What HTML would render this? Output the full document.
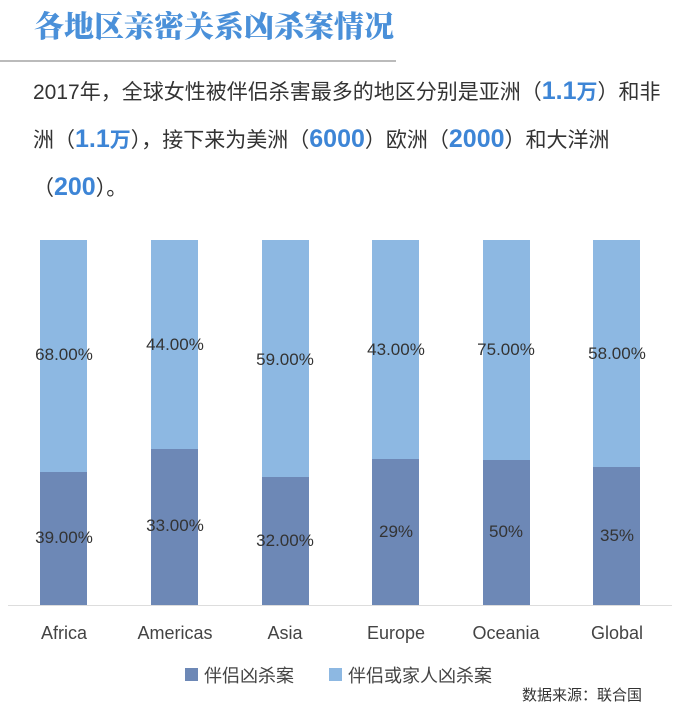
<!DOCTYPE html>
<html><head><meta charset="utf-8"><style>
body{margin:0;width:680px;height:709px;background:#fff;position:relative;overflow:hidden;font-family:"Liberation Sans","Noto Sans CJK SC",sans-serif}
.t{position:absolute;white-space:nowrap}
.b{position:absolute;width:47px}
.l{background:#8db8e2}.d{background:#6d88b6}
.lab{position:absolute;width:120px;text-align:center;font-size:17px;color:#333}
.x{position:absolute;width:120px;text-align:center;font-size:18px;color:#444;top:623px}
.hl{color:#3d85d6;font-weight:bold;font-size:25px}
</style></head><body>
<div class="t" style="left:34px;top:2px;font-size:30px;font-weight:900;color:#4a90d9;font-family:'Noto Serif CJK SC','Noto Sans CJK SC',serif">各地区亲密关系凶杀案情况</div>
<div style="position:absolute;left:0;top:60px;width:396px;height:2px;background:#bbb"></div>
<div class="t" style="left:33px;top:68px;font-size:21px;color:#333;line-height:46px">2017年，全球女性被伴侣杀害最多的地区分别是亚洲（<span class="hl">1.1</span><span style="color:#3d85d6;font-weight:bold">万</span>）和非<br>洲（<span class="hl">1.1</span><span style="color:#3d85d6;font-weight:bold">万</span>），接下来为美洲（<span class="hl">6000</span>）欧洲（<span class="hl">2000</span>）和大洋洲<br>（<span class="hl">200</span>）。</div>

<div style="position:absolute;left:8px;top:605px;width:664px;height:1px;background:#ddd"></div>

<div class="b l" style="left:40px;top:240px;height:232px"></div><div class="b d" style="left:40px;top:472px;height:133px"></div>
<div class="b l" style="left:151px;top:240px;height:209px"></div><div class="b d" style="left:151px;top:449px;height:156px"></div>
<div class="b l" style="left:262px;top:240px;height:237px"></div><div class="b d" style="left:262px;top:477px;height:128px"></div>
<div class="b l" style="left:372px;top:240px;height:219px"></div><div class="b d" style="left:372px;top:459px;height:146px"></div>
<div class="b l" style="left:483px;top:240px;height:220px"></div><div class="b d" style="left:483px;top:460px;height:145px"></div>
<div class="b l" style="left:593px;top:240px;height:227px"></div><div class="b d" style="left:593px;top:467px;height:138px"></div>

<div class="lab" style="left:4px;top:345px">68.00%</div><div class="lab" style="left:4px;top:528px">39.00%</div>
<div class="lab" style="left:115px;top:335px">44.00%</div><div class="lab" style="left:115px;top:516px">33.00%</div>
<div class="lab" style="left:225px;top:350px">59.00%</div><div class="lab" style="left:225px;top:531px">32.00%</div>
<div class="lab" style="left:336px;top:340px">43.00%</div><div class="lab" style="left:336px;top:522px">29%</div>
<div class="lab" style="left:446px;top:340px">75.00%</div><div class="lab" style="left:446px;top:522px">50%</div>
<div class="lab" style="left:557px;top:344px">58.00%</div><div class="lab" style="left:557px;top:526px">35%</div>

<div class="x" style="left:4px">Africa</div><div class="x" style="left:115px">Americas</div><div class="x" style="left:225px">Asia</div>
<div class="x" style="left:336px">Europe</div><div class="x" style="left:446px">Oceania</div><div class="x" style="left:557px">Global</div>

<div style="position:absolute;left:185px;top:668px;width:13px;height:13px;background:#6d88b6"></div>
<div class="t" style="left:204px;top:662px;font-size:18px;color:#444">伴侣凶杀案</div>
<div style="position:absolute;left:329px;top:668px;width:13px;height:13px;background:#8db8e2"></div>
<div class="t" style="left:348px;top:662px;font-size:18px;color:#444">伴侣或家人凶杀案</div>
<div class="t" style="left:522px;top:684px;font-size:15px;color:#333">数据来源：联合国</div>
</body></html>
